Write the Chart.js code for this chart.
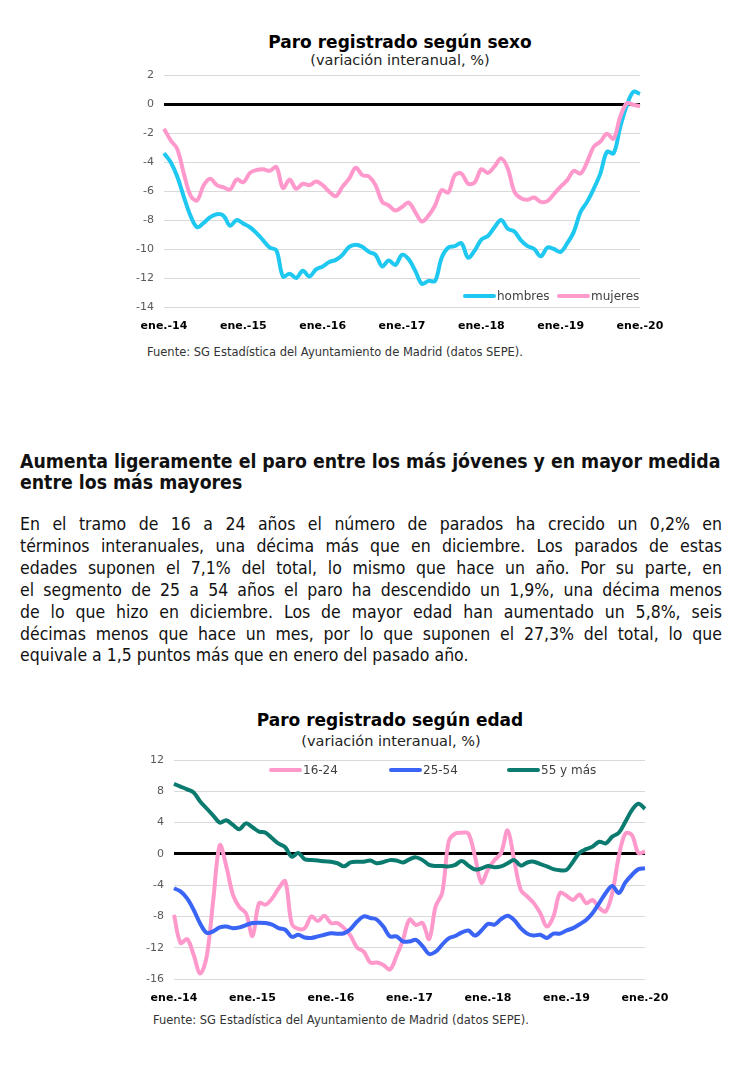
<!DOCTYPE html>
<html>
<head>
<meta charset="utf-8">
<script src="https://cdn.jsdelivr.net/npm/chart.js@4.4.0/dist/chart.umd.min.js"></script>
<style>
body { margin:0; background:#fff; width:744px; height:1072px; position:relative; overflow:hidden; font-family:"DejaVu Sans", sans-serif; color:#000; }
.abs { position:absolute; white-space:nowrap; }
.tit { font-weight:bold; font-size:17px; text-align:center; width:400px; line-height:20px; }
.sub { font-size:14.5px; text-align:center; width:400px; line-height:18px; color:#222; }
.fuente { font-size:11.5px; color:#333; line-height:14px; }
.leg { font-size:12px; color:#404040; line-height:14px; }
.sw { display:inline-block; width:33px; height:4px; border-radius:2px; vertical-align:middle; margin-right:1px; position:relative; top:-1px; }
.txt { font-family:"DejaVu Sans Condensed", "Liberation Sans", sans-serif; width:702px; left:20px; color:#111; }
.h { font-weight:bold; font-size:19.3px; line-height:21px; }
.p { font-size:17.5px; line-height:22px; text-align:justify; text-align-last:justify; }
.p.last { text-align-last:left; }
</style>
</head>
<body>

<div class="abs tit" style="left:200px;top:32px">Paro registrado según sexo</div>
<div class="abs sub" style="left:200px;top:51px">(variación interanual, %)</div>
<canvas id="sexo" class="abs" width="540" height="264" style="left:124px;top:67px"></canvas>
<div class="abs leg" style="left:463px;top:289px"><span class="sw" style="background:#1ec8f0"></span>hombres</div>
<div class="abs leg" style="left:557px;top:289px"><span class="sw" style="background:#ff99cc"></span>mujeres</div>
<div class="abs fuente" style="left:147px;top:345px">Fuente: SG Estadística del Ayuntamiento de Madrid (datos SEPE).</div>

<div class="abs txt h" style="top:451px">Aumenta ligeramente el paro entre los más jóvenes y en mayor medida</div>
<div class="abs txt h" style="top:472px">entre los más mayores</div>

<div class="abs txt p" style="top:513px">En el tramo de 16 a 24 años el número de parados ha crecido un 0,2% en</div>
<div class="abs txt p" style="top:535px">términos interanuales, una décima más que en diciembre. Los parados de estas</div>
<div class="abs txt p" style="top:557px">edades suponen el 7,1% del total, lo mismo que hace un año. Por su parte, en</div>
<div class="abs txt p" style="top:579px">el segmento de 25 a 54 años el paro ha descendido un 1,9%, una décima menos</div>
<div class="abs txt p" style="top:601px">de lo que hizo en diciembre. Los de mayor edad han aumentado un 5,8%, seis</div>
<div class="abs txt p" style="top:623px">décimas menos que hace un mes, por lo que suponen el 27,3% del total, lo que</div>
<div class="abs txt p last" style="top:644px">equivale a 1,5 puntos más que en enero del pasado año.</div>

<div class="abs tit" style="left:190px;top:710px">Paro registrado según edad</div>
<div class="abs sub" style="left:191px;top:732px">(variación interanual, %)</div>
<canvas id="edad" class="abs" width="535" height="251" style="left:134px;top:752px"></canvas>
<div class="abs leg" style="left:269px;top:763px"><span class="sw" style="background:#ff99cc"></span>16-24</div>
<div class="abs leg" style="left:389px;top:763px"><span class="sw" style="background:#3a64f5"></span>25-54</div>
<div class="abs leg" style="left:507px;top:763px"><span class="sw" style="background:#0b7b70"></span>55 y más</div>
<div class="abs fuente" style="left:153px;top:1013px">Fuente: SG Estadística del Ayuntamiento de Madrid (datos SEPE).</div>

<script>
// meses ene.-14 ... ene.-20 (73 datos mensuales)
var anios = ["ene.-14","ene.-15","ene.-16","ene.-17","ene.-18","ene.-19","ene.-20"];

var hombres = [-3.4,-4.0,-5.0,-6.4,-7.7,-8.5,-8.2,-7.8,-7.6,-7.7,-8.4,-8.0,-8.25,-8.5,-8.9,-9.4,-9.9,-10.1,-11.9,-11.7,
  -12.0,-11.5,-11.9,-11.4,-11.2,-10.9,-10.75,-10.4,-9.85,-9.7,-9.85,-10.2,-10.4,-11.2,-10.8,-11.1,-10.4,-10.7,-11.5,-12.4,
  -12.2,-12.2,-10.6,-9.9,-9.8,-9.6,-10.6,-10.1,-9.35,-9.1,-8.5,-8.0,-8.6,-8.8,-9.4,-9.8,-10.0,-10.5,-9.9,-10.0,
  -10.2,-9.6,-8.8,-7.45,-6.75,-5.85,-4.8,-3.3,-3.4,-1.6,-0.1,0.85,0.7];
var mujeres = [-1.7,-2.5,-3.1,-4.8,-6.3,-6.65,-5.6,-5.15,-5.6,-5.75,-5.9,-5.2,-5.4,-4.75,-4.55,-4.5,-4.6,-4.35,-5.8,-5.2,
  -5.85,-5.5,-5.6,-5.35,-5.6,-6.05,-6.35,-5.7,-5.15,-4.4,-4.9,-5.0,-5.6,-6.75,-7.0,-7.35,-7.1,-6.8,-7.45,-8.1,
  -7.7,-7.0,-5.95,-6.1,-4.9,-4.8,-5.5,-5.4,-4.5,-4.75,-4.3,-3.75,-4.45,-6.05,-6.5,-6.6,-6.45,-6.75,-6.7,-6.2,
  -5.7,-5.25,-4.6,-4.8,-4.0,-2.95,-2.6,-2.05,-2.4,-0.9,0.05,-0.05,-0.15];

var jovenes = [-7.8,-11.4,-10.9,-12.9,-15.3,-13.1,-5.9,1.1,-1.6,-5.2,-6.8,-7.6,-10.5,-6.3,-6.5,-5.7,-4.4,-3.5,-8.9,-9.6,
  -9.5,-8.0,-8.6,-7.9,-8.85,-8.85,-9.5,-10.5,-12.0,-12.5,-13.9,-13.9,-14.2,-14.8,-13.1,-11.0,-8.4,-9.1,-8.85,-10.9,
  -6.7,-5.0,1.6,2.6,2.7,2.6,-0.3,-3.7,-2.0,-0.8,0.1,3.0,-0.8,-4.6,-5.45,-6.3,-7.6,-9.3,-8.0,-5.0,
  -5.35,-5.9,-5.2,-6.3,-5.9,-6.9,-7.35,-5.0,-0.3,2.6,2.4,0.1,0.3];
var adultos = [-4.4,-4.8,-5.7,-7.15,-8.9,-10.1,-9.9,-9.4,-9.3,-9.5,-9.4,-9.1,-8.85,-8.8,-8.85,-9.05,-9.5,-9.7,-10.6,-10.35,
  -10.7,-10.75,-10.55,-10.35,-10.15,-10.2,-10.15,-9.6,-8.65,-8.0,-8.2,-8.4,-9.3,-10.55,-10.55,-11.2,-11.2,-11.0,-11.8,-12.8,
  -12.5,-11.6,-10.8,-10.5,-10.05,-9.8,-10.45,-9.8,-8.95,-9.05,-8.35,-7.9,-8.45,-9.5,-10.2,-10.45,-10.35,-10.75,-10.2,-10.2,
  -9.8,-9.5,-9.0,-8.45,-7.55,-6.3,-5.0,-4.1,-5.0,-3.65,-2.7,-1.95,-1.85];
var mayores = [8.95,8.6,8.25,7.85,6.7,5.8,4.9,4.0,4.3,3.7,3.15,3.9,3.4,2.85,2.7,2.0,1.3,0.85,-0.35,0.1,
  -0.7,-0.8,-0.85,-0.95,-1.0,-1.2,-1.6,-1.1,-1.0,-1.0,-0.85,-1.2,-1.05,-0.8,-0.85,-1.1,-0.7,-0.45,-0.8,-1.4,
  -1.55,-1.55,-1.6,-1.4,-0.9,-1.5,-2.0,-1.85,-1.55,-1.7,-1.6,-1.2,-0.8,-1.5,-1.1,-1.0,-1.3,-1.6,-1.95,-2.1,
  -2.05,-1.0,0.15,0.6,0.95,1.55,1.35,2.2,2.7,4.1,5.6,6.4,5.75];

var etiquetas = [];
for (var i = 0; i < hombres.length; i++) {
  etiquetas.push(i % 12 === 0 ? anios[i / 12] : "");
}

function grafico(id, series, min, max, paso) {
  return new Chart(document.getElementById(id), {
    type: "line",
    data: {
      labels: etiquetas,
      datasets: series.map(function (s, k) {
        return { data: s.datos, borderColor: s.color, borderWidth: 4, pointRadius: 0,
                 tension: 0.35, fill: false, order: series.length - k };
      })
    },
    options: {
      responsive: false,
      animation: false,
      layout: { padding: { top: 8, right: 24, left: 0, bottom: 0 } },
      plugins: { legend: { display: false }, tooltip: { enabled: false } },
      scales: {
        x: {
          grid: { display: false },
          border: { display: false },
          ticks: { autoSkip: false, maxRotation: 0, padding: 5, color: "#000",
                   font: { family: "DejaVu Sans", size: 11, weight: "bold" },
                   callback: function (v, i) { return etiquetas[i]; } },
          afterFit: function (s) { s.height = 24; s.paddingLeft = 0; s.paddingRight = 0; }
        },
        y: {
          min: min, max: max,
          ticks: { stepSize: paso, padding: 10, color: "#595959",
                   font: { family: "DejaVu Sans", size: 11 } },
          grid: { drawTicks: false,
                  color: function (c) { return c.tick && c.tick.value === 0 ? "#000" : "#d9d9d9"; },
                  lineWidth: function (c) { return c.tick && c.tick.value === 0 ? 3 : 1; } },
          border: { display: false },
          afterFit: function (s) { s.width = 40; s.paddingTop = 0; s.paddingBottom = 0; }
        }
      }
    }
  });
}

grafico("sexo", [
  { datos: hombres, color: "#1ec8f0" },
  { datos: mujeres, color: "#ff99cc" }
], -14, 2, 2);

grafico("edad", [
  { datos: jovenes, color: "#ff99cc" },
  { datos: adultos, color: "#3a64f5" },
  { datos: mayores, color: "#0b7b70" }
], -16, 12, 4);
</script>
</body>
</html>
